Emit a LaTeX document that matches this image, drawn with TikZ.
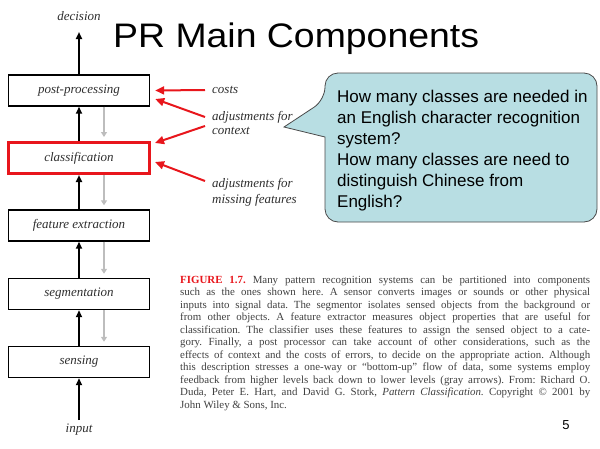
\documentclass[tikz,border=0pt]{standalone}
\usepackage{fontspec}
\setmainfont{Liberation Serif}
\newfontfamily\arialf{Liberation Sans}
\usetikzlibrary{arrows.meta}
\definecolor{redc}{HTML}{E8161C}
\definecolor{calfill}{HTML}{B8DEE3}
\definecolor{calline}{HTML}{4A4A4A}
\definecolor{labgray}{HTML}{2E2E2E}
\definecolor{capgray}{HTML}{404040}
\definecolor{fbgray}{HTML}{BDBDBD}
\newcommand\capline[1]{\hbox to 410pt{#1}}
\begin{document}
\begin{tikzpicture}[x=1pt,y=-1pt,
  stage/.style={draw=black, line width=1.4pt, minimum width=141pt, minimum height=31pt, inner sep=0pt,
    font=\fontsize{13}{15}\selectfont\itshape, text=labgray},
  redstage/.style={stage, draw=redc, line width=3pt},
  flow/.style={line width=2pt, -{Triangle[length=7pt,width=6pt]}},
  fb/.style={draw=fbgray, line width=1.3pt, -{Triangle[length=5pt,width=6pt]}},
  redarr/.style={draw=redc, line width=2pt, -{Triangle[length=9pt,width=8pt]}},
  lab/.style={font=\fontsize{13}{15}\selectfont\itshape, text=labgray, inner sep=0pt},
]
\useasboundingbox (0,0) rectangle (600,448);

% title
\node[font=\arialf\fontsize{34}{40}\selectfont, anchor=base west, xscale=1.1, inner sep=0pt] (title) at (113,47) {PR Main Components};

% stages
\node[stage] (post) at (79,90.5) {post-processing};
\node[redstage] (class) at (79,158) {classification};
\node[stage] (feat) at (79,225.5) {feature extraction};
\node[stage] (seg) at (79,294) {segmentation};
\node[stage] (sens) at (79,362) {sensing};

\node[lab] (dec) at (79,16) {decision};
\node[lab] (inp) at (79,430) {input};
\coordinate (dectip) at (79,32);
\coordinate (inbot) at (79,420);

% bottom-up flow
\draw[flow] (post.north) -- (dectip);
\draw[flow] (class.north) -- (post.south);
\draw[flow] (feat.north) -- (class.south);
\draw[flow] (seg.north) -- (feat.south);
\draw[flow] (sens.north) -- (seg.south);
\draw[flow] (inbot) -- (sens.south);

% feedback (gray)
\draw[fb] ([xshift=25pt]post.south) -- ([xshift=25pt,yshift=4pt]class.north);
\draw[fb] ([xshift=25pt]class.south) -- ([xshift=25pt,yshift=4pt]feat.north);
\draw[fb] ([xshift=25pt]feat.south) -- ([xshift=25pt,yshift=4pt]seg.north);
\draw[fb] ([xshift=25pt]seg.south) -- ([xshift=25pt,yshift=4pt]sens.north);

% side labels
\node[lab, anchor=west] (costs) at (212,90) {costs};
\node[lab, anchor=west] (adjA) at (212,117) {adjustments for};
\node[lab, anchor=west] (adjB) at (212,131) {context};
\node[lab, anchor=west] (missA) at (212,184) {adjustments for};
\node[lab, anchor=west] (missB) at (212,200) {missing features};

\draw[redarr] ([xshift=-7pt]costs.west) -- ([xshift=5pt]post.east);
\draw[redarr] ([xshift=-7pt]adjA.west) -- ([xshift=5pt,yshift=-8.5pt]post.east);
\draw[redarr] ([xshift=-7pt,yshift=-9pt]adjA.west) -- ([xshift=4pt,yshift=15pt]class.east);
\draw[redarr] ([xshift=-7pt,yshift=3pt]missA.west) -- ([xshift=4pt,yshift=-4pt]class.east);

% callout
\draw[fill=calfill, draw=calline, line width=0.8pt]
  (325,137) [rounded corners=13pt] -- (325,222) -- (597,222) -- (597,73) -- (325,73) -- (325,100)
  [sharp corners] -- (284,127) -- cycle;
\node[anchor=base west, inner sep=0pt, text=black] (q) at (337,102)
  {\arialf\fontsize{17}{21}\selectfont\vtop{\hsize=260pt\parindent=0pt\baselineskip=21pt
   \hbox{How many classes are needed in}
   \hbox{an English character recognition}
   \hbox{system?}
   \hbox{How many classes are need to}
   \hbox{distinguish Chinese from}
   \hbox{English?}}};

% caption
\node[anchor=base west, inner sep=0pt, text=capgray] (cap) at (180,283)
  {\fontsize{10.9}{12.5}\selectfont\frenchspacing\vtop{\hsize=410pt\parindent=0pt\baselineskip=12.5pt
   \capline{{\color{redc}\textbf{FIGURE 1.7.}} Many pattern recognition systems can be partitioned into components}
   \capline{such as the ones shown here. A sensor converts images or sounds or other physical}
   \capline{inputs into signal data. The segmentor isolates sensed objects from the background or}
   \capline{from other objects. A feature extractor measures object properties that are useful for}
   \capline{classification. The classifier uses these features to assign the sensed object to a cate-}
   \capline{gory. Finally, a post processor can take account of other considerations, such as the}
   \capline{effects of context and the costs of errors, to decide on the appropriate action. Although}
   \capline{this description stresses a one-way or “bottom-up” flow of data, some systems employ}
   \capline{feedback from higher levels back down to lower levels (gray arrows). From: Richard O.}
   \capline{Duda, Peter E. Hart, and David G. Stork, \textit{Pattern Classification}. Copyright © 2001 by}
   \hbox{John Wiley \& Sons, Inc.}}};

% page number
\node[font=\arialf\fontsize{13}{15}\selectfont, inner sep=0pt] (pg) at (566,425) {5};
\end{tikzpicture}
\end{document}
